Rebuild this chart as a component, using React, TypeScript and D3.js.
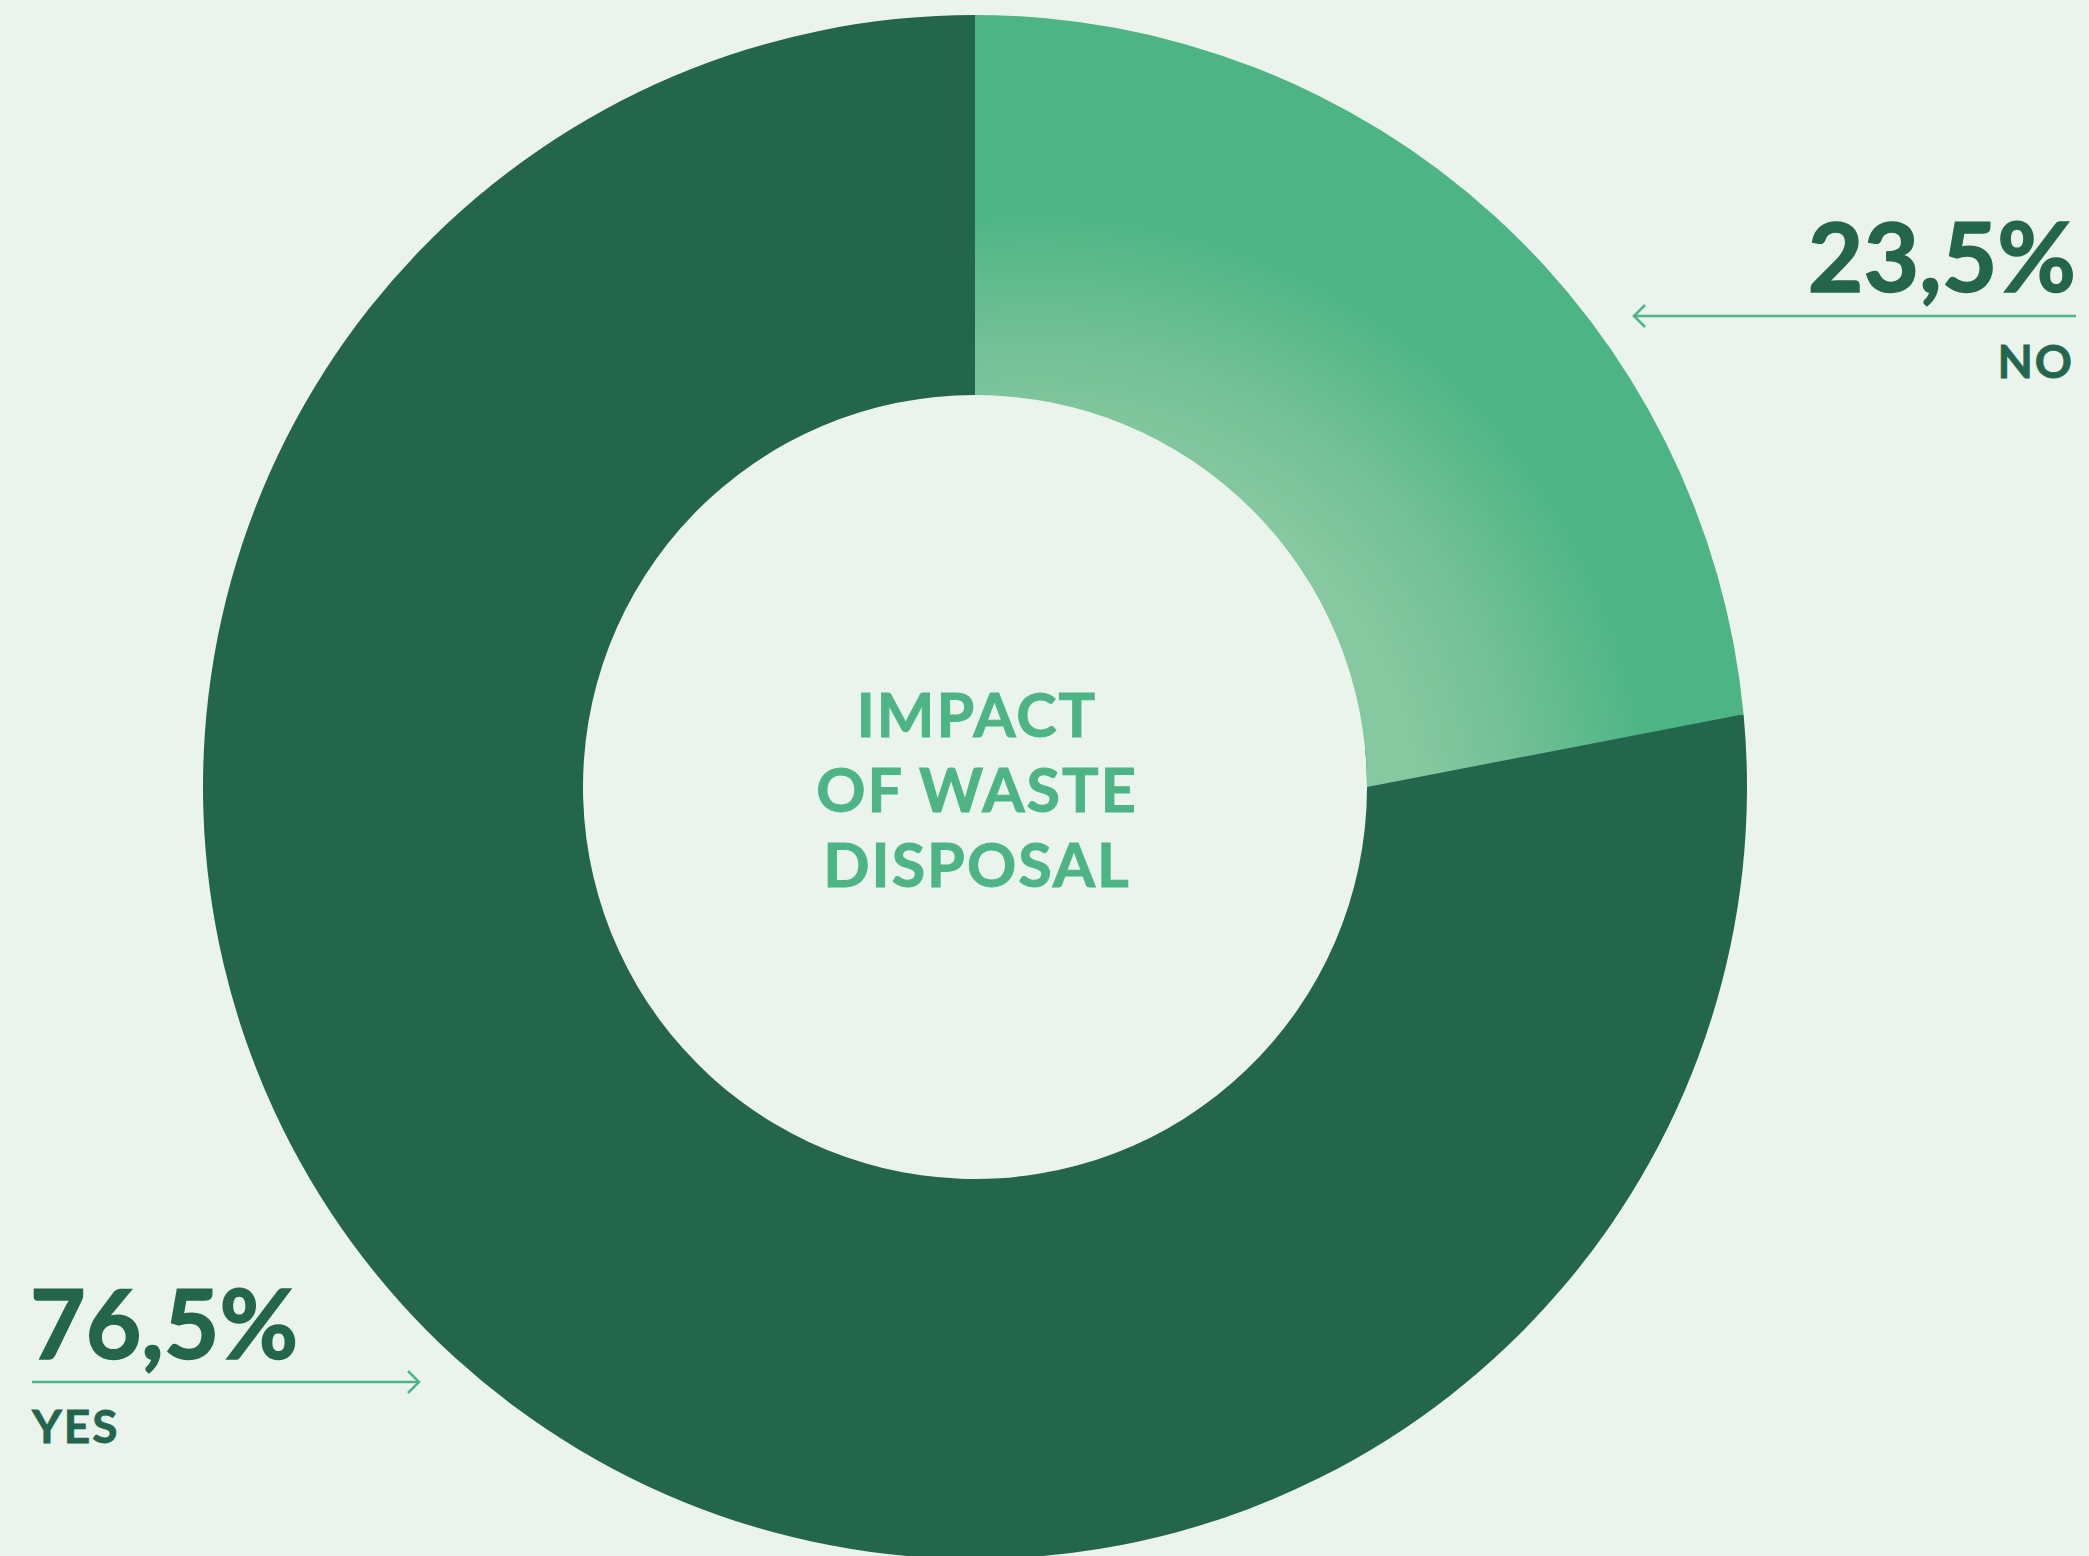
import React from "react";
import * as d3 from "d3";

const categories = ["NO", "YES"];
const values = [23.5, 76.5];
const valueLabels = ["23,5%", "76,5%"];
const titleLines = ["IMPACT", "OF WASTE", "DISPOSAL"];

const W = 2089;
const H = 1556;
const cx = 975;
const cy = 787;
const R = 772;
const r = 392;
const SKEW = 0.094; // inner edge of the NO slice ends slightly later than its outer edge

const BG = "#eaf4ec";
const DARK = "#23664d";
const LIGHT = "#4db585";

export default function App() {
  const pie = d3.pie<number>().sort(null).value((d) => d);
  const arcs = pie(values);
  const arcGen = d3.arc<d3.PieArcDatum<number>>().innerRadius(r).outerRadius(R);

  const no = arcs[0];
  const yes = arcs[1];

  // NO slice in absolute coordinates
  const p = d3.path();
  const a0 = no.startAngle - Math.PI / 2;
  const a1 = no.endAngle - Math.PI / 2;
  const a1i = no.endAngle + SKEW - Math.PI / 2;
  p.moveTo(cx + R * Math.cos(a0), cy + R * Math.sin(a0));
  p.arc(cx, cy, R, a0, a1, false);
  p.lineTo(cx + r * Math.cos(a1i), cy + r * Math.sin(a1i));
  p.arc(cx, cy, r, a1i, a0, true);
  p.closePath();

  const font = "Lato, 'Open Sans', sans-serif";

  return (
    <svg
      width={W}
      height={H}
      style={{ position: "absolute", left: 0, top: 0, display: "block" }}
    >
      <defs>
        <radialGradient
          id="noGrad"
          gradientUnits="userSpaceOnUse"
          cx={cx + 60}
          cy={cy + 40}
          r={R}
        >
          <stop offset="0.5" stopColor="#86c8a0" />
          <stop offset="0.62" stopColor="#74c196" />
          <stop offset="0.8" stopColor={LIGHT} />
          <stop offset="1" stopColor={LIGHT} />
        </radialGradient>
      </defs>
      <rect x={0} y={0} width={W} height={H} fill={BG} />
      <g transform={`translate(${cx},${cy})`}>
        <path d={arcGen(yes) as string} fill={DARK} />
      </g>
      <path d={p.toString()} fill="url(#noGrad)" />

      {/* Title */}
      {titleLines.map((t, i) => (
        <text
          key={t}
          x={cx + 2}
          y={737 + i * 75}
          textAnchor="middle"
          fill={LIGHT}
          stroke={LIGHT}
          strokeWidth={1}
          fontFamily={font}
          fontWeight={700}
          fontSize={61}
          letterSpacing={2}
        >
          {t}
        </text>
      ))}

      {/* NO label */}
      <text
        x={2076}
        y={292}
        textAnchor="end"
        fill={DARK}
        stroke={DARK}
        strokeWidth={1.5}
        fontFamily={font}
        fontWeight={700}
        fontSize={96}
      >
        {valueLabels[0]}
      </text>
      <line x1={1633} y1={316} x2={2076} y2={316} stroke={LIGHT} strokeWidth={2.5} />
      <polyline
        points="1645,305 1634,316 1645,327"
        fill="none"
        stroke={LIGHT}
        strokeWidth={2.5}
      />
      <text
        x={2074}
        y={378}
        textAnchor="end"
        fill={DARK}
        stroke={DARK}
        strokeWidth={0.8}
        fontFamily={font}
        fontWeight={700}
        fontSize={46}
        letterSpacing={2}
      >
        {categories[0]}
      </text>

      {/* YES label */}
      <text
        x={30}
        y={1359}
        textAnchor="start"
        fill={DARK}
        stroke={DARK}
        strokeWidth={1.5}
        fontFamily={font}
        fontWeight={700}
        fontSize={96}
      >
        {valueLabels[1]}
      </text>
      <line x1={32} y1={1382} x2={419} y2={1382} stroke={LIGHT} strokeWidth={2.5} />
      <polyline
        points="408,1371 419,1382 408,1393"
        fill="none"
        stroke={LIGHT}
        strokeWidth={2.5}
      />
      <text
        x={32}
        y={1443}
        textAnchor="start"
        fill={DARK}
        stroke={DARK}
        strokeWidth={0.8}
        fontFamily={font}
        fontWeight={700}
        fontSize={46}
        letterSpacing={2}
      >
        {categories[1]}
      </text>
    </svg>
  );
}
